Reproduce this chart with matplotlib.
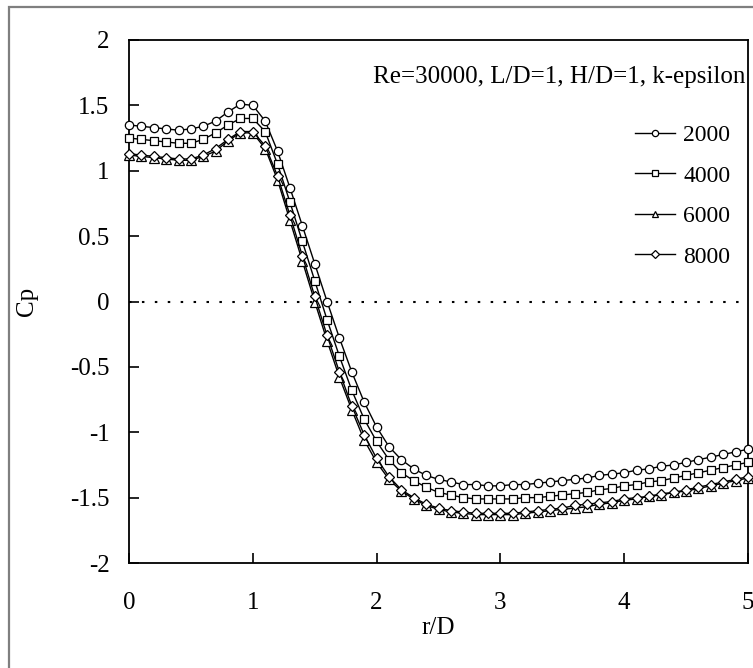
#--------------------- Importing the necessary libraries ---------------------------
import matplotlib
matplotlib.use("Agg")
import matplotlib.pyplot as plt
from matplotlib.patches import Rectangle

plt.rcParams['font.family'] = ['Liberation Serif', 'DejaVu Serif']
plt.rcParams['axes.unicode_minus'] = False

#----------------------- Data -----------------------------------------------
r_D = [0.0, 0.1, 0.2, 0.3, 0.4, 0.5, 0.6, 0.7, 0.8, 0.9,
       1.0, 1.1, 1.2, 1.3, 1.4, 1.5, 1.6, 1.7, 1.8, 1.9,
       2.0, 2.1, 2.2, 2.3, 2.4, 2.5, 2.6, 2.7, 2.8, 2.9,
       3.0, 3.1, 3.2, 3.3, 3.4, 3.5, 3.6, 3.7, 3.8, 3.9,
       4.0, 4.1, 4.2, 4.3, 4.4, 4.5, 4.6, 4.7, 4.8, 4.9, 5.0]

cp_2000 = [1.35, 1.34, 1.33, 1.32, 1.31, 1.32, 1.34, 1.38, 1.45, 1.51,
           1.50, 1.38, 1.15, 0.87, 0.58, 0.29, 0.00, -0.28, -0.54, -0.77,
           -0.96, -1.11, -1.21, -1.28, -1.33, -1.36, -1.38, -1.40, -1.40, -1.41,
           -1.41, -1.40, -1.40, -1.39, -1.38, -1.37, -1.36, -1.35, -1.33, -1.32,
           -1.31, -1.29, -1.28, -1.26, -1.25, -1.23, -1.21, -1.19, -1.17, -1.15, -1.13]

cp_4000 = [1.25, 1.24, 1.23, 1.22, 1.21, 1.21, 1.24, 1.29, 1.35, 1.40,
           1.40, 1.30, 1.05, 0.76, 0.46, 0.16, -0.14, -0.42, -0.68, -0.90,
           -1.07, -1.21, -1.31, -1.37, -1.42, -1.46, -1.48, -1.50, -1.51, -1.51,
           -1.51, -1.51, -1.50, -1.50, -1.49, -1.48, -1.47, -1.46, -1.44, -1.43,
           -1.41, -1.40, -1.38, -1.37, -1.35, -1.33, -1.31, -1.29, -1.27, -1.25, -1.23]

cp_6000 = [1.12, 1.11, 1.10, 1.09, 1.08, 1.08, 1.11, 1.15, 1.23, 1.29,
           1.29, 1.17, 0.93, 0.62, 0.31, 0.00, -0.30, -0.58, -0.83, -1.06,
           -1.23, -1.36, -1.45, -1.51, -1.56, -1.59, -1.61, -1.62, -1.63, -1.63,
           -1.63, -1.63, -1.62, -1.61, -1.60, -1.59, -1.58, -1.57, -1.55, -1.54,
           -1.52, -1.51, -1.49, -1.48, -1.46, -1.45, -1.43, -1.41, -1.39, -1.37, -1.35]

cp_8000 = [1.13, 1.12, 1.11, 1.10, 1.09, 1.09, 1.12, 1.17, 1.24, 1.30,
           1.30, 1.19, 0.96, 0.66, 0.35, 0.04, -0.26, -0.54, -0.80, -1.02,
           -1.20, -1.34, -1.44, -1.50, -1.55, -1.58, -1.60, -1.61, -1.62, -1.62,
           -1.62, -1.62, -1.61, -1.60, -1.59, -1.58, -1.56, -1.55, -1.54, -1.53,
           -1.51, -1.50, -1.49, -1.47, -1.46, -1.44, -1.42, -1.40, -1.38, -1.36, -1.34]

series_labels = ['2000', '4000', '6000', '8000']
series_markers = ['o', 's', '^', 'D']
series_sizes = [6, 6, 6.5, 5]

x_ticks = [0, 1, 2, 3, 4, 5]
y_ticks = [-2, -1.5, -1, -0.5, 0, 0.5, 1, 1.5, 2]
y_tick_labels = ['-2', '-1.5', '-1', '-0.5', '0', '0.5', '1', '1.5', '2']

#----------------------- Figure ----------------------------
fig = plt.figure(figsize=(7.53, 6.68), dpi=100)
ax = fig.add_axes([129 / 753, 105 / 668, 619 / 753, 523 / 668])

# gray outer frame of the original screenshot
fig.patches.append(Rectangle((9 / 753, -0.05), 1.2, 1 - 7 / 668 + 0.05,
                             transform=fig.transFigure, fill=False,
                             edgecolor='#7f7f7f', linewidth=1.6))

# dotted zero line
ax.axhline(0, color='black', linestyle=(0, (1.2, 5)), linewidth=1.5, zorder=1)

all_series = [cp_2000, cp_4000, cp_6000, cp_8000]
for values, label, marker, ms in zip(all_series, series_labels, series_markers, series_sizes):
    ax.plot(r_D, values, color='black', linewidth=1.0, marker=marker,
            markersize=ms, markerfacecolor='white', markeredgecolor='black',
            markeredgewidth=0.9, label=label, clip_on=False, zorder=3)

ax.set_xlim(0, 5)
ax.set_ylim(-2, 2)
ax.set_xticks(x_ticks)
ax.set_xticklabels([str(t) for t in x_ticks])
ax.set_yticks(y_ticks)
ax.set_yticklabels(y_tick_labels)

ax.tick_params(axis='both', direction='in', length=7, width=1.2, labelsize=18, colors='black')
ax.tick_params(axis='x', pad=21)
ax.tick_params(axis='y', pad=14)
for spine in ax.spines.values():
    spine.set_linewidth(1.3)

ax.set_xlabel('r/D', fontsize=18, labelpad=2)
ax.set_ylabel('Cp', fontsize=18)
ax.yaxis.set_label_coords(-0.147, 0.5)

ax.text(0.995, 0.93, 'Re=30000, L/D=1, H/D=1, k-epsilon', transform=ax.transAxes,
        ha='right', va='center', fontsize=18)

ax.legend(loc='upper left', bbox_to_anchor=(0.817, 0.838), frameon=False, fontsize=17,
          handlelength=1.7, handletextpad=0.35, labelspacing=0.8,
          borderpad=0, borderaxespad=0, markerscale=0.75)

plt.savefig('out.png', dpi=100)
